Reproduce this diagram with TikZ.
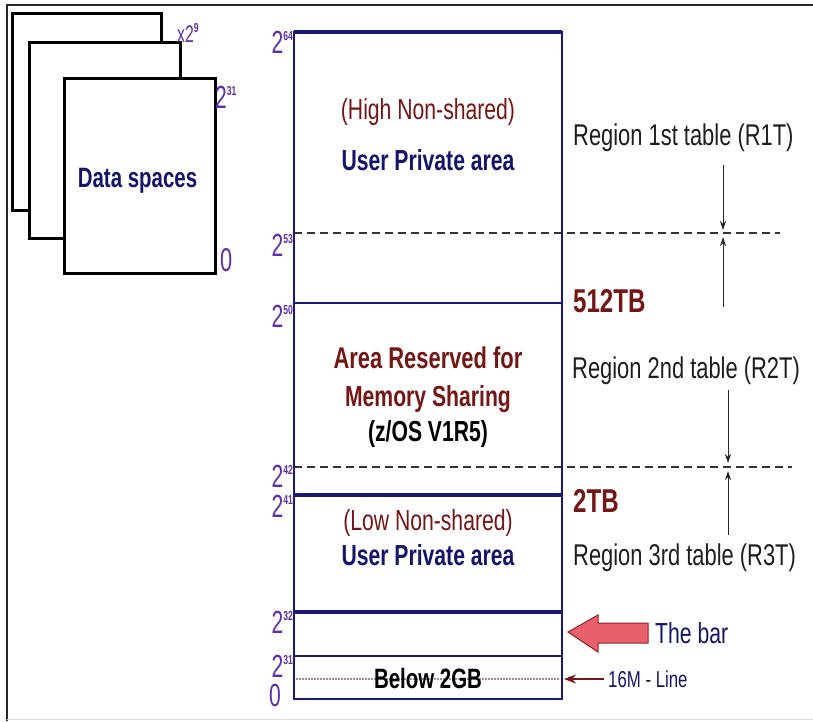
\documentclass[tikz,border=0pt]{standalone}
\usepackage{fontspec}
\setmainfont[FakeStretch=0.73]{Liberation Sans}
\newfontfamily\axisfont[FakeStretch=0.66]{Liberation Sans}
\usetikzlibrary{arrows.meta}
\definecolor{boxnavy}{RGB}{25,25,120}
\definecolor{textnavy}{RGB}{20,20,105}
\definecolor{darkred}{RGB}{115,22,22}
\definecolor{axisviolet}{RGB}{96,48,168}
\definecolor{barfill}{RGB}{232,96,108}
\definecolor{barline}{RGB}{150,30,40}
\definecolor{regiontext}{RGB}{30,30,30}
\definecolor{sixteenline}{RGB}{175,140,140}
% power-of-two label: large 2 with a small exponent
\newcommand{\axispow}[1]{{\axisfont\fontsize{32}{32}\selectfont 2\raisebox{12.5pt}{\fontsize{13}{13}\selectfont\bfseries #1}}}
\begin{document}
\begin{tikzpicture}[x=1pt,y=-1pt,
  lab/.style={inner sep=0pt, anchor=base},
  axislab/.style={inner sep=0pt, anchor=base east, text=axisviolet},
  regionlab/.style={inner sep=0pt, anchor=base west, text=regiontext, font=\fontsize{30}{30}\selectfont},
  sizelab/.style={inner sep=0pt, anchor=base west, text=darkred, font=\fontsize{33}{33}\selectfont\bfseries},
  dsbox/.style={draw=black, line width=3pt, fill=white},
  thinrule/.style={draw=boxnavy, line width=1.6pt},
  thickrule/.style={draw=boxnavy, line width=3.4pt},
  dashrule/.style={draw=black!80, line width=1.5pt, dash pattern=on 8pt off 5pt},
  regarrow/.style={draw=black!85, line width=1pt, -{Stealth[length=9pt,width=6pt]}}]
\useasboundingbox (0,0) rectangle (813,721);
\fill[white] (0,0) rectangle (813,721);

% outer frame
\draw[black!85, line width=2.5pt] (7,721) -- (7,5) -- (813,5);
\draw[black!12, line width=1pt] (7,719.5) -- (813,719.5);

% stacked data spaces
\draw[dsbox] (12,13) rectangle (161,210);
\draw[dsbox] (29,42) rectangle (180,238);
\draw[dsbox] (64,78) rectangle (215,273);
\node[lab, text=textnavy, font=\fontsize{28}{28}\selectfont\bfseries] (ds) at (137.5,187) {Data spaces};
\node[inner sep=0pt, anchor=base west, text=axisviolet] (dscount) at (177,42)
  {\axisfont\fontsize{24}{24}\selectfont x2\raisebox{10pt}{\fontsize{13}{13}\selectfont\bfseries 9}};
\node[inner sep=0pt, anchor=base west, text=axisviolet] (dstop) at (215,108) {\axispow{31}};
\node[inner sep=0pt, anchor=base west, text=axisviolet] (dsbot) at (220,271)
  {\axisfont\fontsize{33}{33}\selectfont 0};

% boundary lines through the address space
\draw[dashrule] (294,233) -- (780,233);
\draw[dashrule] (294,467) -- (792,467);
\draw[thinrule] (294,32) rectangle (562,699);
\draw[thickrule] (294,32) -- (562,32);
\draw[thinrule] (294,303) -- (562,303);
\draw[thickrule] (294,495) -- (562,495);
\draw[thickrule] (294,612) -- (562,612);
\draw[thinrule] (294,656) -- (562,656);
\draw[sixteenline, line width=1.6pt, dash pattern=on 2pt off 1pt] (296,679) -- (560,679);

% axis labels
\node[axislab] (p64) at (293,53) {\axispow{64}};
\node[axislab] (p53) at (293,256) {\axispow{53}};
\node[axislab] (p50) at (293,327) {\axispow{50}};
\node[axislab] (p42) at (293,487) {\axispow{42}};
\node[axislab] (p41) at (293,517) {\axispow{41}};
\node[axislab] (p32) at (293,633) {\axispow{32}};
\node[axislab] (p31) at (293,677) {\axispow{31}};
\node[axislab] (p0) at (281,706) {\axisfont\fontsize{32}{32}\selectfont 0};

% area texts
\node[lab, text=darkred, font=\fontsize{29}{29}\selectfont] (hins) at (428,119) {(High Non-shared)};
\node[lab, text=textnavy, font=\fontsize{29}{29}\selectfont\bfseries] (hupa) at (428,170) {User Private area};
\node[lab, text=darkred, font=\fontsize{30}{30}\selectfont\bfseries] (ar1) at (428,368) {Area Reserved for};
\node[lab, text=darkred, font=\fontsize{29}{29}\selectfont\bfseries] (ar2) at (428,406) {Memory Sharing};
\node[lab, text=black, font=\fontsize{29}{29}\selectfont\bfseries] (ar3) at (428,441) {(z/OS V1R5)};
\node[lab, text=darkred, font=\fontsize{29}{29}\selectfont] (lons) at (428,530) {(Low Non-shared)};
\node[lab, text=textnavy, font=\fontsize{29}{29}\selectfont\bfseries] (lupa) at (428,565) {User Private area};
\node[lab, text=black, font=\fontsize{28}{28}\selectfont\bfseries] (b2g) at (428,688) {Below 2GB};

% right-hand annotations
\node[regionlab] (r1t) at (573,145) {Region 1st table (R1T)};
\node[regionlab] (r2t) at (572,378) {Region 2nd table (R2T)};
\node[regionlab] (r3t) at (573,565) {Region 3rd table (R3T)};
\node[sizelab] (tb512) at (573,312) {512TB};
\node[sizelab] (tb2) at (573,512) {2TB};

\coordinate (r1from) at (723,165);
\coordinate (r1to) at (723,230);
\coordinate (r1up) at (723,307);
\coordinate (r1uto) at (723,237);
\coordinate (r2from) at (728,390);
\coordinate (r2to) at (728,463);
\coordinate (r2up) at (728,535);
\coordinate (r2uto) at (728,471);
\draw[regarrow] (r1from) -- (r1to);
\draw[regarrow] (r1up) -- (r1uto);
\draw[regarrow] (r2from) -- (r2to);
\draw[regarrow] (r2up) -- (r2uto);

% the bar
\draw[fill=barfill, draw=barline, line width=1pt]
  (568,632) -- (598,615) -- (598,623) -- (648,623) -- (648,643) -- (598,643) -- (598,652) -- cycle;
\node[inner sep=0pt, anchor=base west, text=textnavy, font=\fontsize{29}{29}\selectfont] (bar) at (655,643) {The bar};

% 16M line
\node[inner sep=0pt, anchor=base west, text=textnavy, font=\fontsize{23}{23}\selectfont] (m16) at (608,687) {16M - Line};
\coordinate (m16tip) at (564,679);
\draw[darkred, line width=1.6pt, -{Stealth[length=12pt,width=9pt]}] (m16.west |- m16tip) ++(-4,0) -- (m16tip);
\end{tikzpicture}
\end{document}
